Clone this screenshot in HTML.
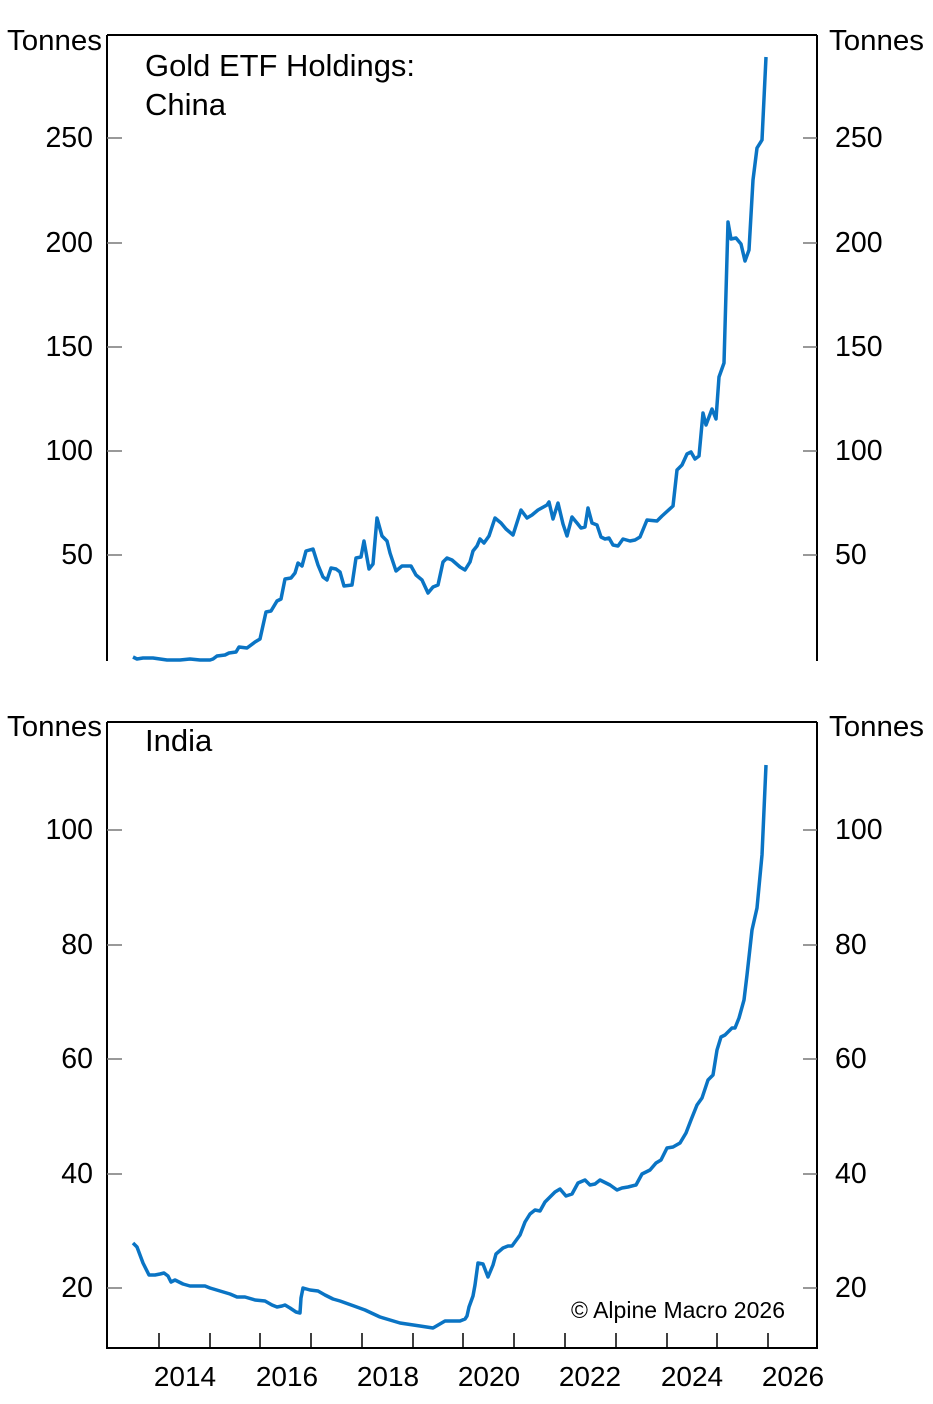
<!DOCTYPE html>
<html><head><style>body{margin:0;background:#fff}</style></head><body>
<svg width="933" height="1399" viewBox="0 0 933 1399" xmlns="http://www.w3.org/2000/svg" font-family="Liberation Sans, Arial, sans-serif" fill="#000">
<g stroke="#000" stroke-width="2" fill="none">
<line x1="107" y1="35" x2="817" y2="35"/>
<line x1="107" y1="35" x2="107" y2="661"/>
<line x1="817" y1="35" x2="817" y2="661"/>
<line x1="107" y1="722" x2="817" y2="722"/>
<polyline points="107,722 107,1348 817,1348 817,722"/>
</g>
<g stroke="#777" stroke-width="1.5">
<line x1="107" y1="138" x2="122" y2="138"/><line x1="107" y1="243" x2="122" y2="243"/><line x1="107" y1="347" x2="122" y2="347"/><line x1="107" y1="451" x2="122" y2="451"/><line x1="107" y1="555" x2="122" y2="555"/>
<line x1="803" y1="138" x2="817" y2="138"/><line x1="803" y1="243" x2="817" y2="243"/><line x1="803" y1="347" x2="817" y2="347"/><line x1="803" y1="451" x2="817" y2="451"/><line x1="803" y1="555" x2="817" y2="555"/>
<line x1="107" y1="830" x2="122" y2="830"/><line x1="107" y1="945" x2="122" y2="945"/><line x1="107" y1="1059" x2="122" y2="1059"/><line x1="107" y1="1174" x2="122" y2="1174"/><line x1="107" y1="1288" x2="122" y2="1288"/>
<line x1="803" y1="830" x2="817" y2="830"/><line x1="803" y1="945" x2="817" y2="945"/><line x1="803" y1="1059" x2="817" y2="1059"/><line x1="803" y1="1174" x2="817" y2="1174"/><line x1="803" y1="1288" x2="817" y2="1288"/>
</g>
<g stroke="#000" stroke-width="1.5">
<line x1="159" y1="1333" x2="159" y2="1348"/><line x1="210" y1="1333" x2="210" y2="1348"/><line x1="260" y1="1333" x2="260" y2="1348"/><line x1="311" y1="1333" x2="311" y2="1348"/><line x1="362" y1="1333" x2="362" y2="1348"/><line x1="413" y1="1333" x2="413" y2="1348"/><line x1="463" y1="1333" x2="463" y2="1348"/><line x1="514" y1="1333" x2="514" y2="1348"/><line x1="565" y1="1333" x2="565" y2="1348"/><line x1="616" y1="1333" x2="616" y2="1348"/><line x1="667" y1="1333" x2="667" y2="1348"/><line x1="717" y1="1333" x2="717" y2="1348"/><line x1="768" y1="1333" x2="768" y2="1348"/>
</g>
<g font-size="28.5">
<text x="7" y="50" textLength="95" lengthAdjust="spacingAndGlyphs">Tonnes</text><text x="829" y="50" textLength="95" lengthAdjust="spacingAndGlyphs">Tonnes</text>
<text x="7" y="736" textLength="95" lengthAdjust="spacingAndGlyphs">Tonnes</text><text x="829" y="736" textLength="95" lengthAdjust="spacingAndGlyphs">Tonnes</text>
<g text-anchor="end">
<text x="93" y="147">250</text><text x="93" y="252">200</text><text x="93" y="356">150</text><text x="93" y="460">100</text><text x="93" y="564">50</text>
<text x="93" y="839">100</text><text x="93" y="954">80</text><text x="93" y="1068">60</text><text x="93" y="1183">40</text><text x="93" y="1297">20</text>
</g>
<text x="835" y="147">250</text><text x="835" y="252">200</text><text x="835" y="356">150</text><text x="835" y="460">100</text><text x="835" y="564">50</text>
<text x="835" y="839">100</text><text x="835" y="954">80</text><text x="835" y="1068">60</text><text x="835" y="1183">40</text><text x="835" y="1297">20</text>
</g>
<g font-size="28" text-anchor="middle">
<text x="185" y="1386">2014</text><text x="287" y="1386">2016</text><text x="388" y="1386">2018</text><text x="489" y="1386">2020</text><text x="590" y="1386">2022</text><text x="692" y="1386">2024</text><text x="793" y="1386">2026</text>
</g>
<g font-size="31">
<text x="145" y="76" textLength="270" lengthAdjust="spacingAndGlyphs">Gold ETF Holdings:</text>
<text x="145" y="115">China</text>
<text x="145" y="751">India</text>
</g>
<text x="571" y="1318" font-size="23" textLength="214" lengthAdjust="spacingAndGlyphs">© Alpine Macro 2026</text>
<g fill="none" stroke="#0a74c4" stroke-width="3.5" stroke-linejoin="round">
<polyline points="133,657 137,659 143,658 153,658 160,659 167,660 180,660 190,659 200,660 210,660 213,659 217,656 225,655 229,653 236,652 239,647 247,648 255,642 260,639 266,612 271,611 277,601 281,599 285,579 291,578 295,573 298,563 302,566 306,551 313,549 318,565 323,577 327,580 331,568 336,569 340,572 344,586 352,585 356,558 361,557 364,541 369,569 373,564 377,518 382,536 387,541 390,553 396,571 402,566 411,566 416,575 422,580 428,593 433,587 438,585 443,562 447,558 452,560 460,567 465,570 470,562 473,551 477,546 480,539 484,543 489,536 495,518 501,523 506,529 513,535 521,510 527,518 532,515 538,510 547,505 549,502 553,519 558,503 563,524 567,536 572,517 577,523 581,528 585,527 588,508 592,523 597,525 601,537 605,539 609,538 613,545 618,546 623,539 630,541 635,540 640,537 647,520 657,521 662,516 673,506 677,470 682,465 687,454 691,452 695,459 699,456 703,413 706,425 712,409 716,419 719,377 724,363 728,222 731,239 736,238 741,244 745,261 749,250 753,180 757,148 762,140 766,57"/>
<polyline points="133,1243 137,1247 143,1263 149,1275 155,1275 160,1274 164,1273 168,1276 171,1282 175,1280 183,1284 190,1286 205,1286 210,1288 220,1291 230,1294 237,1297 245,1297 255,1300 265,1301 272,1305 277,1307 282,1306 285,1305 290,1308 296,1312 300,1313 301,1298 303,1288 310,1290 318,1291 325,1295 333,1299 340,1301 354,1306 365,1310 380,1317 400,1323 420,1326 433,1328 445,1321 453,1321 460,1321 465,1319 467,1316 469,1307 473,1296 475,1285 478,1263 483,1264 488,1277 493,1265 496,1254 503,1248 508,1246 512,1246 520,1235 525,1222 530,1214 535,1210 540,1211 545,1202 555,1192 560,1189 566,1196 572,1194 578,1183 585,1180 590,1185 595,1184 600,1180 610,1185 617,1190 622,1188 628,1187 636,1185 642,1174 650,1170 656,1163 661,1160 667,1148 673,1147 680,1143 686,1133 691,1120 697,1105 702,1098 708,1080 713,1075 717,1050 721,1037 725,1035 728,1032 732,1028 735,1028 739,1018 744,1000 747,975 752,930 757,908 762,855 766,765"/>
</g>
</svg>
</body></html>
